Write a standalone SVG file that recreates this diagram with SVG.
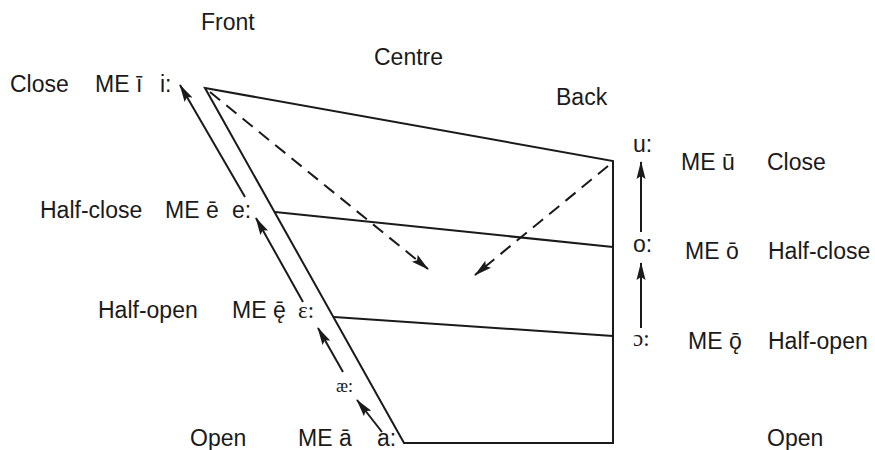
<svg xmlns="http://www.w3.org/2000/svg" width="875" height="450" viewBox="0 0 875 450">
<style>
.t{font-family:"Liberation Sans",Arial,sans-serif;font-size:23px;fill:#1a1a1a}
.s{font-family:"Liberation Serif","DejaVu Serif",serif;font-size:23px;fill:#1a1a1a}
.ln{stroke:#1a1a1a;stroke-width:2;fill:none}
.ar{stroke:#1a1a1a;stroke-width:2;fill:none;marker-end:url(#ah)}
.da{stroke:#1a1a1a;stroke-width:2;fill:none;stroke-dasharray:13 8;marker-end:url(#ah)}
</style>
<defs>
<marker id="ah" viewBox="0 0 18 10" refX="17" refY="5" markerWidth="18" markerHeight="10" markerUnits="userSpaceOnUse" orient="auto">
<path d="M0,0.5 L18,5 L0,9.5 L3,5 z" fill="#1a1a1a"/>
</marker>
</defs>
<rect width="875" height="450" fill="#fff"/>
<g id="chart">
<path class="ln" d="M205,88 L613,161 L613,443 L404,443 Z"/>
<line class="ln" x1="275" y1="212" x2="613" y2="247"/>
<line class="ln" x1="334" y1="317" x2="613" y2="336"/>
</g>
<g id="connectors">
<line class="ar" x1="382" y1="432" x2="357" y2="400"/>
<line class="ar" x1="343" y1="372" x2="318" y2="328"/>
<line class="ar" x1="303" y1="302" x2="256" y2="218"/>
<line class="ar" x1="245" y1="197" x2="180" y2="85"/>
<line class="ar" x1="641" y1="232" x2="641" y2="162"/>
<line class="ar" x1="641" y1="328" x2="641" y2="263"/>
<line class="da" x1="210" y1="92" x2="428" y2="269"/>
<line class="da" x1="608" y1="166" x2="475" y2="275"/>
</g>
<g id="headers">
<text class="t" x="201" y="30">Front</text>
<text class="t" x="374" y="65">Centre</text>
<text class="t" x="556" y="105">Back</text>
</g>
<g id="close-front">
<text class="t" x="10" y="92">Close</text>
<text class="t" x="95" y="92">ME ī</text>
<text class="t" x="160" y="92">i:</text>
</g>
<g id="halfclose-front">
<text class="t" x="40" y="218">Half-close</text>
<text class="t" x="165" y="218">ME ē</text>
<text class="t" x="232" y="218">e:</text>
</g>
<g id="halfopen-front">
<text class="t" x="98" y="318">Half-open</text>
<text class="t" x="232" y="318">ME ę̄</text>
<text class="s" x="298" y="318">ɛ:</text>
</g>
<g id="ae">
<text class="s" x="336" y="392" style="font-size:18px">æ:</text>
</g>
<g id="open-front">
<text class="t" x="190" y="446">Open</text>
<text class="t" x="298" y="446">ME ā</text>
<text class="t" x="377" y="446">a:</text>
</g>
<g id="close-back">
<text class="t" x="633" y="152">u:</text>
<text class="t" x="681" y="170">ME ū</text>
<text class="t" x="767" y="170">Close</text>
</g>
<g id="halfclose-back">
<text class="t" x="633" y="252">o:</text>
<text class="t" x="685" y="259">ME ō</text>
<text class="t" x="768" y="259">Half-close</text>
</g>
<g id="halfopen-back">
<text class="s" x="633" y="346">ɔ:</text>
<text class="t" x="688" y="349">ME ǭ</text>
<text class="t" x="768" y="349">Half-open</text>
</g>
<g id="open-back">
<text class="t" x="767" y="446">Open</text>
</g>
</svg>
